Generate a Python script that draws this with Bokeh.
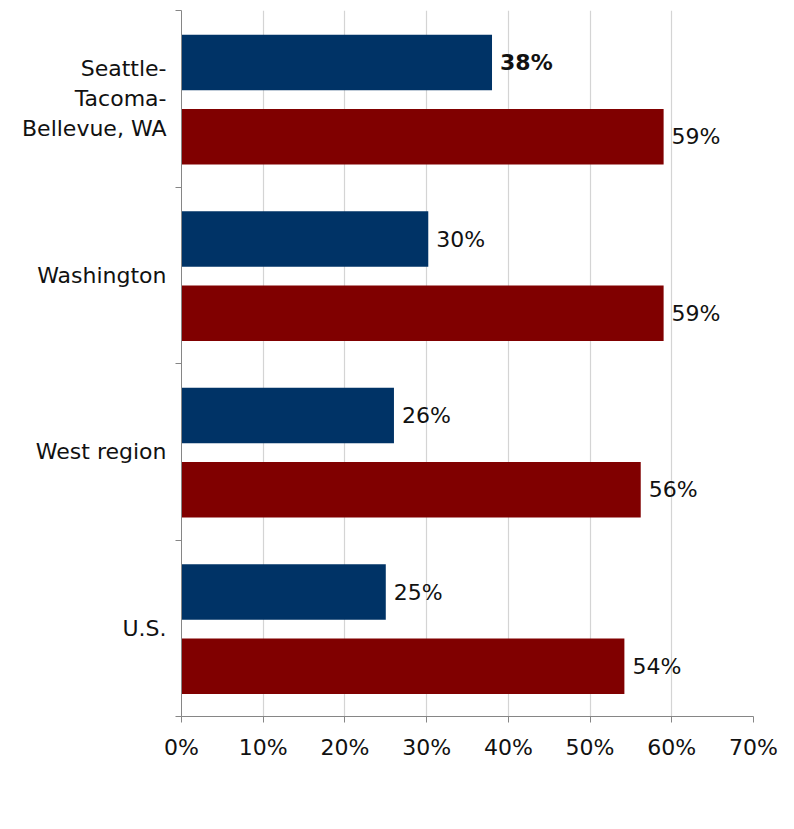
from bokeh.plotting import figure
from bokeh.models import (ColumnDataSource, Range1d, LinearAxis,
                          FixedTicker, NumeralTickFormatter, Legend, LegendItem)
from bokeh.core.properties import value
from bokeh.embed import file_html
from bokeh.resources import INLINE

# ---- data (top to bottom as shown) ----
categories = ["Seattle-\nTacoma-\nBellevue, WA", "Washington", "West region", "U.S."]
ages_18_29 = [0.380, 0.302, 0.260, 0.250]
ages_30_older = [0.590, 0.590, 0.562, 0.542]
label_18_29 = ["38%", "30%", "26%", "25%"]
label_30_older = ["59%", "59%", "56%", "54%"]
series_names = ["Ages 30 and older", "Ages 18-29"]
x_ticks = [0, 0.1, 0.2, 0.3, 0.4, 0.5, 0.6, 0.7]
highlight = categories[0]

FONT = "DejaVu Sans"
FS = "22px"
BLUE = "#003366"
RED = "#800000"
AXIS_C = "#868686"
TEXT_C = "#111111"

n = len(categories)
centers = [n - 1 - i + 0.5 for i in range(n)]   # band centre of each category (top to bottom)
YOUNG_OFF, OLD_OFF, BAR_H = 0.205, -0.215, 0.315

src = ColumnDataSource(dict(
    cat=categories,
    y_young=[c + YOUNG_OFF for c in centers],
    y_old=[c + OLD_OFF for c in centers],
    young=ages_18_29,
    old=ages_30_older,
    young_lbl=label_18_29,
    old_lbl=label_30_older,
    young_style=["bold" if c == highlight else "normal" for c in categories],
))

p = figure(frame_width=572, frame_height=706, output_backend="svg", toolbar_location=None,
           y_range=Range1d(0, n), x_range=Range1d(x_ticks[0], x_ticks[-1]),
           x_axis_location=None, y_axis_location=None,
           min_border_left=181, min_border_right=37, min_border_top=10, min_border_bottom=113)
p.outline_line_color = None
p.background_fill_color = None
p.border_fill_color = None

# bars
r_young = p.hbar(y="y_young", right="young", left=0, height=BAR_H,
                 source=src, fill_color=BLUE, line_color=None)
r_old = p.hbar(y="y_old", right="old", left=0, height=BAR_H,
               source=src, fill_color=RED, line_color=None)

# value labels
p.text(x="young", y="y_young", text="young_lbl", source=src,
       x_offset=8, text_baseline="middle", text_align="left",
       text_font=value(FONT), text_font_size=FS, text_color=TEXT_C,
       text_font_style="young_style")
p.text(x="old", y="y_old", text="old_lbl", source=src,
       x_offset=8, text_baseline="middle", text_align="left",
       text_font=value(FONT), text_font_size=FS, text_color=TEXT_C)

# grid
p.ygrid.visible = False
p.xgrid.ticker = FixedTicker(ticks=x_ticks)
p.xgrid.grid_line_color = "#d4d4d4"
p.xgrid.grid_line_width = 1.2

# x axis
xaxis = LinearAxis(ticker=FixedTicker(ticks=x_ticks), formatter=NumeralTickFormatter(format="0%"))
xaxis.axis_line_color = AXIS_C
xaxis.major_tick_line_color = AXIS_C
xaxis.major_tick_in = 0
xaxis.major_tick_out = 6
xaxis.minor_tick_line_color = None
xaxis.major_label_standoff = 12
xaxis.major_label_text_font = FONT
xaxis.major_label_text_font_size = FS
xaxis.major_label_text_color = TEXT_C
p.add_layout(xaxis, "below")

# y axis: band-edge ticks (nearest to frame), then category labels
edges = list(range(n + 1))
edge_axis = LinearAxis(ticker=FixedTicker(ticks=edges))
edge_axis.axis_line_color = AXIS_C
edge_axis.major_tick_line_color = AXIS_C
edge_axis.major_tick_in = 0
edge_axis.major_tick_out = 6
edge_axis.minor_tick_line_color = None
edge_axis.major_label_standoff = 0
edge_axis.major_label_overrides = {e: "" for e in edges}
edge_axis.major_label_text_font_size = "1px"
p.add_layout(edge_axis, "left")

cat_axis = LinearAxis(ticker=FixedTicker(ticks=centers))
cat_axis.major_label_overrides = {c: name for c, name in zip(centers, categories)}
cat_axis.axis_line_color = None
cat_axis.major_tick_line_color = None
cat_axis.minor_tick_line_color = None
cat_axis.major_tick_out = 0
cat_axis.major_tick_in = 0
cat_axis.major_label_standoff = 9
cat_axis.major_label_text_font = FONT
cat_axis.major_label_text_font_size = FS
cat_axis.major_label_text_color = TEXT_C
p.add_layout(cat_axis, "left")

# legend below the x axis
legend = Legend(items=[LegendItem(label=series_names[0], renderers=[r_old]),
                       LegendItem(label=series_names[1], renderers=[r_young])],
                orientation="horizontal", location="bottom_left")
legend.label_text_font = FONT
legend.label_text_font_size = FS
legend.label_text_color = TEXT_C
legend.glyph_width = 14
legend.glyph_height = 13
legend.label_standoff = 7
legend.spacing = 15
legend.padding = 22
legend.margin = 0
legend.border_line_color = None
legend.background_fill_color = None
legend.background_fill_alpha = 0
p.add_layout(legend, "below")

open("out.html", "w").write(file_html(p, INLINE))
